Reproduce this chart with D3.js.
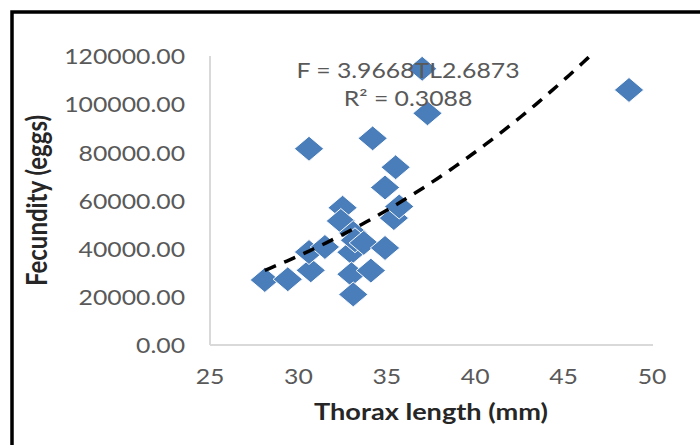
<!DOCTYPE html>
<html>
<head>
<meta charset="utf-8">
<script src="https://cdn.jsdelivr.net/npm/d3@7"></script>
<style>
    html, body { margin: 0; padding: 0; background: #fff; }
    svg { display: block; }
</style>
</head>
<body>
<div class="chart-container"></div>
<script>
// thorax length (mm) and fecundity (eggs)
const thoraxLength = [28.1, 29.4, 30.7, 30.6, 30.6, 31.5, 32.5, 32.4, 33.1, 33.0, 33.2, 33.7,
    34.9, 33.0, 33.1, 34.1, 34.2, 34.9, 35.5, 35.4, 35.7, 37.0, 37.3, 48.7];
const fecundity = [27000, 27300, 31000, 81500, 38600, 40700, 57000, 51500, 46500, 38500, 43500, 42400,
    40300, 29400, 21000, 30900, 85800, 65400, 73800, 52700, 57500, 114700, 96200, 105900];

const xTicks = [25, 30, 35, 40, 45, 50];
const yTicks = [0, 20000, 40000, 60000, 80000, 100000, 120000];

// power trendline from the chart label: F = a * TL^b
const trendA = 3.9668;
const trendB = 2.6873;
const trendLabel = ['F = 3.9668TL2.6873', 'R\u00B2 = 0.3088'];

const W = 700;
const H = 445;
const stretch = 1.18; // the source image is a bit wider than tall
const margin = { top: 56, right: 47, bottom: 100, left: 210 };

const svg = d3.select('.chart-container').append('svg')
    .attr('width', W)
    .attr('height', H);

// frame, only left and top edges are inside the picture
svg.append('path')
    .attr('d', 'M12,' + H + 'V12H' + W)
    .attr('fill', 'none')
    .attr('stroke', '#000')
    .attr('stroke-width', 3.5);

const x = d3.scaleLinear().domain([25, 50]).range([margin.left, 652]);
const y = d3.scaleLinear().domain([0, 120000]).range([H - margin.bottom, margin.top]);

function putText(sel, px, py) {
    return sel.attr('x', 0).attr('y', 0)
        .attr('transform', 'translate(' + px + ',' + py + ') scale(' + stretch + ',1)');
}

// axes lines
svg.append('line')
    .attr('x1', x(25)).attr('x2', x(25))
    .attr('y1', y(120000)).attr('y2', y(0))
    .attr('stroke', '#d9d9d9').attr('stroke-width', 2);
svg.append('line')
    .attr('x1', x(25)).attr('x2', 653)
    .attr('y1', y(0)).attr('y2', y(0))
    .attr('stroke', '#d9d9d9').attr('stroke-width', 2);

const labelFont = 'Lato, "Open Sans", sans-serif';

svg.append('g').selectAll('text')
    .data(yTicks)
    .enter()
    .append('text')
    .text((d) => d3.format('.2f')(d))
    .each(function (d) {
        putText(d3.select(this), 185, y(d));
    })
    .attr('text-anchor', 'end')
    .attr('dominant-baseline', 'central')
    .attr('font-family', labelFont)
    .attr('font-size', 21)
    .attr('fill', '#595959');

svg.append('g').selectAll('text')
    .data(xTicks)
    .enter()
    .append('text')
    .text((d) => d)
    .each(function (d) {
        putText(d3.select(this), x(d), 376);
    })
    .attr('text-anchor', 'middle')
    .attr('dominant-baseline', 'central')
    .attr('font-family', labelFont)
    .attr('font-size', 21)
    .attr('fill', '#595959');

// axis titles
putText(svg.append('text'), 431, 411)
    .text('Thorax length (mm)')
    .attr('text-anchor', 'middle')
    .attr('dominant-baseline', 'central')
    .attr('font-family', labelFont)
    .attr('font-weight', 'bold')
    .attr('font-size', 23)
    .attr('fill', '#262626');

svg.append('text')
    .text('Fecundity (eggs)')
    .attr('transform', 'translate(36,' + ((y(0) + y(120000)) / 2) + ') rotate(-90) scale(1,' + stretch + ')')
    .attr('text-anchor', 'middle')
    .attr('dominant-baseline', 'central')
    .attr('font-family', labelFont)
    .attr('font-weight', 'bold')
    .attr('font-size', 24)
    .attr('fill', '#262626');

// points
const points = thoraxLength.map((tl, i) => ({ tl: tl, f: fecundity[i] }));
const diamond = d3.symbol().type(d3.symbolSquare).size(310);

svg.append('g').selectAll('path')
    .data(points)
    .enter()
    .append('path')
    .attr('d', diamond)
    .attr('transform', (d) => 'translate(' + x(d.tl) + ',' + y(d.f) + ') scale(' + stretch + ',1) rotate(45)')
    .attr('fill', '#4a7ebb')
    .attr('stroke', '#fff')
    .attr('stroke-width', 0.8);

// trendline, clipped to the plot area
svg.append('clipPath').attr('id', 'plot-clip')
    .append('rect')
    .attr('x', x(25)).attr('y', y(120000))
    .attr('width', 653 - x(25)).attr('height', y(0) - y(120000));

const tlMin = d3.min(thoraxLength);
const tlMax = d3.max(thoraxLength);
const trendX = d3.range(tlMin, tlMax, 0.25).concat([tlMax]);

svg.append('path')
    .datum(trendX)
    .attr('clip-path', 'url(#plot-clip)')
    .attr('d', d3.line()
        .x((d) => x(d))
        .y((d) => y(trendA * Math.pow(d, trendB))))
    .attr('fill', 'none')
    .attr('stroke', '#000')
    .attr('stroke-width', 3.5)
    .attr('stroke-dasharray', '12,9');

// trendline label
svg.append('g').selectAll('text')
    .data(trendLabel)
    .enter()
    .append('text')
    .text((d) => d)
    .each(function (d, i) {
        putText(d3.select(this), 408, 70 + i * 28);
    })
    .attr('text-anchor', 'middle')
    .attr('dominant-baseline', 'central')
    .attr('font-family', labelFont)
    .attr('font-size', 21)
    .attr('fill', '#595959');
</script>
</body>
</html>
